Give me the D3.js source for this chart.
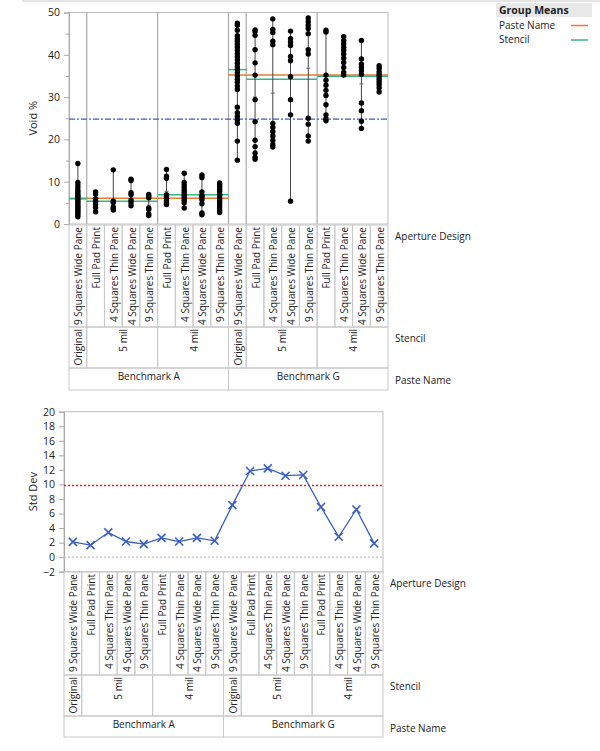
<!DOCTYPE html>
<html><head><meta charset="utf-8">
<script src="https://cdn.jsdelivr.net/npm/d3@7"></script>
<style>
body{margin:0;background:#fff;}
svg{display:block;font-family:"Open Sans","Noto Sans",sans-serif;}
</style></head>
<body><svg id="c" width="600" height="751"></svg>
<script>
// ---------- DATA ----------
const aperture = ["9 Squares Wide Pane","Full Pad Print","4 Squares Thin Pane","4 Squares Wide Pane","9 Squares Thin Pane",
  "Full Pad Print","4 Squares Thin Pane","4 Squares Wide Pane","9 Squares Thin Pane",
  "9 Squares Wide Pane","Full Pad Print","4 Squares Thin Pane","4 Squares Wide Pane","9 Squares Thin Pane",
  "Full Pad Print","4 Squares Thin Pane","4 Squares Wide Pane","9 Squares Thin Pane"];
const stencil = ["Original","5 mil","5 mil","5 mil","5 mil","4 mil","4 mil","4 mil","4 mil",
  "Original","5 mil","5 mil","5 mil","5 mil","4 mil","4 mil","4 mil","4 mil"];
const paste = ["Benchmark A","Benchmark A","Benchmark A","Benchmark A","Benchmark A","Benchmark A","Benchmark A","Benchmark A","Benchmark A",
  "Benchmark G","Benchmark G","Benchmark G","Benchmark G","Benchmark G","Benchmark G","Benchmark G","Benchmark G","Benchmark G"];

const voidPoints = [
  [14.3,9.8,9.2,8.6,8.0,7.5,7.0,6.6,6.2,5.8,5.4,5.0,4.6,4.2,3.8,3.4,3.0,2.6,2.2,1.7],
  [7.6,7.1,6.0,5.4,4.7,3.9,2.9],
  [12.8,5.4,5.1,4.0,3.6,3.3],
  [10.6,10.3,7.4,6.9,5.6,5.0,4.3],
  [7.0,6.6,6.2,3.8,3.4,2.4,2.0],
  [12.9,11.3,10.8,6.9,6.5,6.0,5.5,5.0,4.6],
  [12.0,9.8,9.2,8.6,8.0,7.4,6.8,6.2,5.6,5.0,3.8],
  [11.6,11.0,7.6,6.8,6.4,5.8,4.8,2.6,2.2],
  [9.7,9.3,8.8,8.2,7.7,7.0,6.6,6.0,5.5,5.0,4.4,3.8,3.2,2.7],
  [47.5,47.0,45.8,44.5,43.8,43.2,42.5,41.8,41.0,40.2,39.5,38.8,38.0,37.2,36.5,35.8,35.0,34.2,33.5,32.6,31.8,27.6,26.3,25.5,24.6,23.8,19.6,15.1],
  [45.9,45.5,44.6,41.2,38.1,35.2,29.4,24.2,19.8,18.3,16.8,15.8,15.3],
  [48.5,46.0,45.3,43.2,42.4,23.8,22.8,21.8,20.8,19.8,18.8,18.2],
  [45.6,43.8,43.0,42.2,39.6,38.6,34.8,29.4,25.8,5.4],
  [48.7,47.8,47.0,46.2,45.0,41.2,40.2,25.0,23.6,20.8,19.6],
  [45.8,45.4,35.2,34.0,32.8,31.6,30.4,28.2,25.8,24.9,24.4],
  [44.3,43.4,42.6,41.8,41.0,40.2,39.2,38.2,37.0,35.8,35.2],
  [43.4,39.0,37.8,37.0,36.2,35.4,28.6,26.8,24.3,22.6],
  [37.4,36.8,36.0,35.4,34.8,34.2,33.6,33.0,32.2,31.2]
];
const stdDev = [2.1,1.65,3.4,2.15,1.8,2.65,2.15,2.65,2.25,7.15,11.85,12.2,11.2,11.3,6.9,2.8,6.55,1.9];

const pasteNames = ["Benchmark A","Benchmark G"];
const pasteMeans = [6.1,35.2];
const stencilGroups = ["A Original","A 5 mil","A 4 mil","G Original","G 5 mil","G 4 mil"];
const stencilMeans = [5.95,5.35,6.9,36.5,34.2,34.9];
const grandMean = 24.8;
const stdLimit = 9.85;

const voidTicks = [0,10,20,30,40,50];
const voidMinorTicks = [5,15,25,35,45];
const stdTicks = [-2,0,2,4,6,8,10,12,14,16,18,20];

// ---------- DRAW ----------
const svg = d3.select("#c");
const idx = d3.range(aperture.length);
const orange = "#e57c2f", teal = "#33b58e", blue = "#3a5fc0";
const gridCol = "#a8a8a8", cellCol = "#c8c8c8", txt = "#222";
const fs = 10;

// top light header bar
svg.append("rect").attr("x",22).attr("y",0).attr("width",578).attr("height",2).attr("fill","#e4e4e4");

function runs(keyFn){
  const out=[]; idx.forEach(i=>{const k=keyFn(i); if(out.length && out[out.length-1].key===k) out[out.length-1].end=i; else out.push({key:k,start:i,end:i});}); return out;
}
const stencilRuns = runs(i=>paste[i]+"|"+stencil[i]);
const pasteRuns = runs(i=>paste[i]);

function labelTable(g, x, top, rowH){
  const bw = x.bandwidth();
  const y1 = top, y2 = top+rowH[0], y3 = y2+rowH[1];
  idx.forEach(i=>{
    g.append("rect").attr("x",x(i)).attr("y",y1).attr("width",bw).attr("height",rowH[0])
      .attr("fill","none").attr("stroke",cellCol);
    g.append("text").attr("transform",`translate(${x(i)+bw/2+0.5},${y1+2}) rotate(-90)`)
      .attr("text-anchor","end").attr("dominant-baseline","central")
      .attr("font-size",fs).attr("fill",txt).text(aperture[i]);
  });
  stencilRuns.forEach(r=>{
    const xs=x(r.start), xe=x(r.end)+bw;
    g.append("rect").attr("x",xs).attr("y",y2).attr("width",xe-xs).attr("height",rowH[1])
      .attr("fill","none").attr("stroke",cellCol);
    g.append("text").attr("transform",`translate(${(xs+xe)/2+0.5},${y2+2}) rotate(-90)`)
      .attr("text-anchor","end").attr("dominant-baseline","central")
      .attr("font-size",fs).attr("fill",txt).text(stencil[r.start]);
  });
  pasteRuns.forEach(r=>{
    const xs=x(r.start), xe=x(r.end)+bw;
    g.append("rect").attr("x",xs).attr("y",y3).attr("width",xe-xs).attr("height",rowH[2])
      .attr("fill","none").attr("stroke",cellCol);
    g.append("text").attr("x",(xs+xe)/2).attr("y",y3+12)
      .attr("text-anchor","middle").attr("font-size",fs).attr("fill",txt).text(r.key);
  });
  const rx = x.range()[1]+7;
  g.append("text").attr("x",rx).attr("y",y1+15).attr("font-size",fs).attr("fill",txt).text("Aperture Design");
  g.append("text").attr("x",rx).attr("y",y2+15).attr("font-size",fs).attr("fill",txt).text("Stencil");
  g.append("text").attr("x",rx).attr("y",y3+16).attr("font-size",fs).attr("fill",txt).text("Paste Name");
}

// ===== Top chart =====
{
  const x = d3.scaleBand().domain(idx).range([69,388]).padding(0);
  const y = d3.scaleLinear().domain([0,50]).range([224,12.5]);
  const g = svg.append("g");
  const bw = x.bandwidth();
  g.append("rect").attr("x",69).attr("y",y(50)).attr("width",319).attr("height",y(0)-y(50))
    .attr("fill","none").attr("stroke","#bdbdbd");
  stencilRuns.slice(0,-1).forEach(r=>{
    const xx = x(r.end)+bw;
    g.append("line").attr("x1",xx).attr("x2",xx).attr("y1",y(50)).attr("y2",y(0)).attr("stroke",gridCol).attr("stroke-width",1.2);
  });
  const ax = g.append("g").attr("transform","translate(69,0)")
    .call(d3.axisLeft(y).tickValues(voidTicks).tickSize(5).tickPadding(4));
  ax.select(".domain").attr("stroke",gridCol);
  ax.selectAll(".tick line").attr("stroke",gridCol);
  ax.selectAll("text").attr("font-size",10.5).attr("fill",txt).attr("font-family","Open Sans");
  const ax2 = g.append("g").attr("transform","translate(69,0)")
    .call(d3.axisLeft(y).tickValues(voidMinorTicks).tickSize(3).tickFormat(""));
  ax2.select(".domain").remove();
  ax2.selectAll(".tick line").attr("stroke",gridCol);
  g.append("text").attr("transform",`translate(37,${(y(0)+y(50))/2}) rotate(-90)`)
    .attr("text-anchor","middle").attr("font-size",11).attr("fill",txt).text("Void %");

  g.append("line").attr("x1",69).attr("x2",388).attr("y1",y(grandMean)).attr("y2",y(grandMean))
    .attr("stroke",blue).attr("stroke-width",1.2).attr("stroke-dasharray","6,2,2,2");
  pasteRuns.forEach((r,k)=>{
    g.append("line").attr("x1",x(r.start)).attr("x2",x(r.end)+bw).attr("y1",y(pasteMeans[k])).attr("y2",y(pasteMeans[k]))
      .attr("stroke",orange).attr("stroke-width",1.5);
  });
  stencilRuns.forEach((r,k)=>{
    g.append("line").attr("x1",x(r.start)).attr("x2",x(r.end)+bw).attr("y1",y(stencilMeans[k])).attr("y2",y(stencilMeans[k]))
      .attr("stroke",teal).attr("stroke-width",1.5);
  });
  idx.forEach(i=>{
    const cx = x(i)+bw/2, v = voidPoints[i];
    g.append("line").attr("x1",cx).attr("x2",cx).attr("y1",y(d3.max(v))).attr("y2",y(d3.min(v)))
      .attr("stroke","#444").attr("stroke-width",1);
    const m = d3.mean(v);
    g.append("line").attr("x1",cx-2).attr("x2",cx+2).attr("y1",y(m)).attr("y2",y(m)).attr("stroke","#666");
    g.selectAll(null).data(v).enter().append("circle").attr("cx",cx).attr("cy",d=>y(d)).attr("r",2.7).attr("fill","#000");
  });
  labelTable(g, x, 225, [102,41,22]);

  const lg = svg.append("g");
  lg.append("rect").attr("x",496).attr("y",3).attr("width",96).attr("height",14).attr("fill","#e8e8e8");
  lg.append("text").attr("x",499).attr("y",14).attr("font-size",10.5).attr("font-weight","bold").attr("fill",txt).text("Group Means");
  lg.append("text").attr("x",499).attr("y",29).attr("font-size",fs).attr("fill",txt).text("Paste Name");
  lg.append("line").attr("x1",571).attr("x2",588).attr("y1",25.5).attr("y2",25.5).attr("stroke",orange).attr("stroke-width",1.5);
  lg.append("text").attr("x",499).attr("y",43).attr("font-size",fs).attr("fill",txt).text("Stencil");
  lg.append("line").attr("x1",571).attr("x2",588).attr("y1",40).attr("y2",40).attr("stroke",teal).attr("stroke-width",1.5);
}

// ===== Bottom chart =====
{
  const x = d3.scaleBand().domain(idx).range([64,383]).padding(0);
  const y = d3.scaleLinear().domain([-2,20]).range([571.7,411.7]);
  const g = svg.append("g");
  const bw = x.bandwidth();
  g.append("rect").attr("x",64).attr("y",y(20)).attr("width",319).attr("height",y(-2)-y(20))
    .attr("fill","none").attr("stroke","#bdbdbd");
  const ax = g.append("g").attr("transform","translate(64,0)")
    .call(d3.axisLeft(y).tickValues(stdTicks).tickSize(5).tickPadding(4));
  ax.select(".domain").attr("stroke",gridCol);
  ax.selectAll(".tick line").attr("stroke",gridCol);
  ax.selectAll("text").attr("font-size",10.5).attr("fill",txt).attr("font-family","Open Sans");
  g.append("text").attr("transform",`translate(37,${(y(-2)+y(20))/2}) rotate(-90)`)
    .attr("text-anchor","middle").attr("font-size",11).attr("fill",txt).text("Std Dev");
  g.append("line").attr("x1",64).attr("x2",383).attr("y1",y(0)).attr("y2",y(0))
    .attr("stroke","#c4c4c4").attr("stroke-width",1.2).attr("stroke-dasharray","2,2");
  g.append("line").attr("x1",64).attr("x2",383).attr("y1",y(stdLimit)).attr("y2",y(stdLimit))
    .attr("stroke","#e02424").attr("stroke-width",1.3).attr("stroke-dasharray","2,2");
  const line = d3.line().x(i=>x(i)+bw/2).y(i=>y(stdDev[i]));
  g.append("path").datum(idx).attr("d",line).attr("fill","none").attr("stroke",blue).attr("stroke-width",1.3);
  const s = 4;
  idx.forEach(i=>{
    const cx=x(i)+bw/2, cy=y(stdDev[i]);
    g.append("path").attr("d",`M${cx-s},${cy-s}L${cx+s},${cy+s}M${cx-s},${cy+s}L${cx+s},${cy-s}`)
      .attr("stroke",blue).attr("stroke-width",1.6).attr("fill","none");
  });
  labelTable(g, x, 572, [103,41,21]);
}
</script></body></html>
